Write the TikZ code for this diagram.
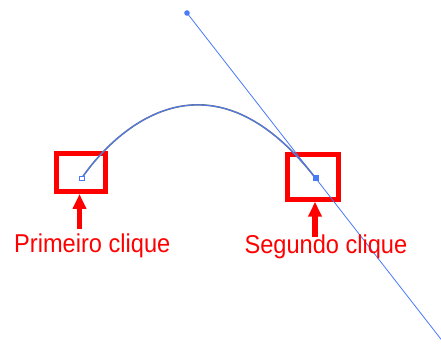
\documentclass[tikz,border=0pt]{standalone}
\usepackage{fontspec}
\newfontfamily\labelfont[FakeStretch=0.915]{Liberation Sans}
\usetikzlibrary{arrows.meta}
\definecolor{penblue}{RGB}{72,122,250}
\definecolor{markred}{RGB}{255,0,0}
\tikzset{
  markbox/.style={draw=markred, line width=5pt, inner sep=0pt, fill=none},
  anchorpt/.style={draw=penblue, line width=0.9pt, fill=white, inner sep=0pt, minimum size=4.5pt},
  anchorsel/.style={fill=penblue, inner sep=0pt, minimum size=6pt},
  handledot/.style={circle, fill=penblue, inner sep=0pt, minimum size=5.6pt},
  handleline/.style={draw=penblue, line width=0.8pt},
  pathline/.style={draw=penblue, line width=0.9pt},
  pathshade/.style={draw=black!55, line width=1.6pt},
  pointer/.style={draw=markred, line width=5.6pt,
    -{Triangle[width=13pt,length=15pt]}},
  caption/.style={text=markred, inner sep=0pt,
    font=\labelfont\fontsize{25.8}{30}\selectfont}
}
\begin{document}
\begin{tikzpicture}[x=1pt,y=-1pt]
\useasboundingbox (0,0) rectangle (441,352);
\clip (0,0) rectangle (441,352);
\fill[white] (0,0) rectangle (441,352);

% red highlight frames
\node[markbox, minimum width=49pt, minimum height=38pt] (box1) at (81,172.5) {};
\node[markbox, minimum width=51.3pt, minimum height=44.4pt] (box2) at (312.8,177) {};

% anchor points and direction handle
\coordinate (p1) at (81.7,178.3);
\coordinate (p2) at (315.7,178.3);
\node[handledot] (h1) at (187,13) {};
\coordinate (h2) at (444.4,343.6);

% handle through the second anchor
\draw[handleline] (h1.center) -- (p2) -- (h2);

% the curved segment
\draw[pathshade] (p1) .. controls (p1) and (h1.center) .. (p2);
\draw[pathline] (p1) .. controls (p1) and (h1.center) .. (p2);

\node[anchorpt] (a1) at (p1) {};
\node[anchorsel] (a2) at (p2) {};

% captions and pointers
\node[caption, anchor=base west] (t1) at (14,252.7) {Primeiro clique};
\node[caption, anchor=base west] (t2) at (244.3,254) {Segundo clique};

\coordinate (f1) at (79.5,229);
\coordinate (f2) at (315,237);
\draw[pointer] (f1) -- (f1 |- box1.south);
\draw[pointer] (f2) -- (f2 |- box2.south);
\end{tikzpicture}
\end{document}
